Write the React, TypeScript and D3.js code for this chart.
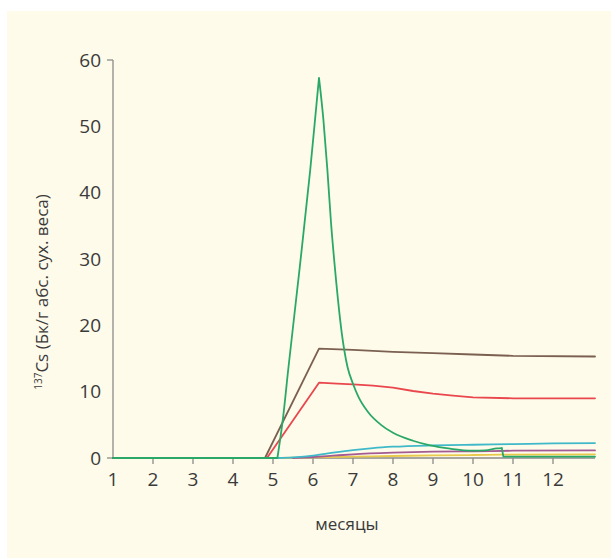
import React from "react";
import * as d3 from "d3";

// month ticks and y ticks
const monthTicks = [1, 2, 3, 4, 5, 6, 7, 8, 9, 10, 11, 12];
const valueTicks = [0, 10, 20, 30, 40, 50, 60];

// [month, Bq/g]
const brown = [[1, 0], [4.8, 0], [6.15, 16.5], [7, 16.3], [8, 16.0], [9, 15.8], [10, 15.6], [11, 15.4], [13.05, 15.3]];
const red = [[1, 0], [4.85, 0], [6.15, 11.35], [6.6, 11.2], [7, 11.1], [7.5, 10.9], [8, 10.6], [8.5, 10.1], [9, 9.7], [9.5, 9.4], [10, 9.15], [11, 9.0], [13.05, 9.0]];
// green is split at the peak and at the drop so the corners stay sharp
const greenFlat = [[1, 0], [5.11, 0]];
const greenRise = [[5.11, 0], [5.25, 6], [5.38, 13.3], [5.66, 28.3], [5.93, 43.4], [6.09, 53.5], [6.15, 57.3]];
const greenDecay = [[6.15, 57.3], [6.26, 51], [6.36, 43.4], [6.45, 35.5], [6.55, 28.5], [6.72, 18.8], [6.86, 13.8], [7.0, 11.2], [7.13, 9.3], [7.38, 6.9], [7.7, 5.0], [8.0, 3.8], [8.5, 2.6], [8.93, 1.9], [9.43, 1.4], [10, 1.1], [10.3, 1.15], [10.6, 1.45], [10.72, 1.5]];
const greenTail = [[10.72, 1.5], [10.76, 0.2], [13.05, 0.2]];
const cyan = [[5.1, 0], [5.5, 0.1], [6, 0.35], [6.5, 0.8], [7, 1.2], [7.5, 1.5], [8, 1.7], [9, 1.9], [10, 2.0], [11, 2.1], [12, 2.2], [13.05, 2.25]];
const purple = [[5.5, 0], [6, 0.15], [6.5, 0.35], [7, 0.55], [8, 0.8], [9, 0.95], [10, 1.0], [11, 1.1], [13.05, 1.15]];
const yellow = [[5.1, 0], [6, 0.1], [7, 0.2], [8, 0.3], [9, 0.4], [10, 0.45], [10.7, 0.5], [13.05, 0.55]];

const series = [
  { parts: [yellow], color: "#e9c94a", curve: d3.curveMonotoneX },
  { parts: [purple], color: "#a45a92", curve: d3.curveMonotoneX },
  { parts: [cyan], color: "#3fb9c9", curve: d3.curveMonotoneX },
  { parts: [red], color: "#e9474d", curve: d3.curveLinear },
  { parts: [brown], color: "#7b5f50", curve: d3.curveLinear },
  { parts: [greenFlat, greenRise, greenDecay], color: "#2aa868", curve: d3.curveMonotoneX },
  { parts: [greenTail], color: "#2aa868", curve: d3.curveLinear },
];

export default function App() {
  const width = 611;
  const height = 558;
  const x = d3.scaleLinear().domain([1, 13.05]).range([113, 595]);
  const y = d3.scaleLinear().domain([0, 60]).range([458, 60]);
  const font = "'Open Sans', 'Noto Sans', sans-serif";

  return (
    <svg width={width} height={height} style={{ position: "absolute", left: 0, top: 0 }}>
      <rect x={7} y={11} width={width - 7} height={height - 11} fill="#fefbea" />

      {/* y axis */}
      <line x1={x(1)} x2={x(1)} y1={y(60)} y2={y(0)} stroke="#8a8a88" strokeWidth={1.3} />
      <line x1={x(1) - 6} x2={x(1)} y1={y(60)} y2={y(60)} stroke="#8a8a88" strokeWidth={1.3} />
      <line x1={x(1) - 6} x2={x(1)} y1={y(0)} y2={y(0)} stroke="#8a8a88" strokeWidth={1.3} />
      {valueTicks.map((v) => (
        <text key={v} x={101} y={y(v)} dy="0.35em" textAnchor="end" fontFamily={font} fontSize={19} fill="#3a3a3a">
          {v}
        </text>
      ))}

      {/* x axis */}
      <line x1={x(1)} x2={x(13.05)} y1={y(0)} y2={y(0)} stroke="#8a8a88" strokeWidth={1.3} />
      {monthTicks.map((m) => (
        <g key={m}>
          {m > 1 && <line x1={x(m)} x2={x(m)} y1={y(0)} y2={y(0) + 6} stroke="#8a8a88" strokeWidth={1.3} />}
          <text x={x(m)} y={y(0) + 28} textAnchor="middle" fontFamily={font} fontSize={19} fill="#3a3a3a">
            {m}
          </text>
        </g>
      ))}

      {series.map((s, i) => {
        const line = d3.line<number[]>().x((d) => x(d[0])).y((d) => y(d[1])).curve(s.curve);
        const d = s.parts.map((p) => line(p) || "").join("");
        return <path key={i} d={d} fill="none" stroke={s.color} strokeWidth={1.8} strokeLinecap="round" strokeLinejoin="round" />;
      })}

      <text x={347} y={530} textAnchor="middle" fontFamily={font} fontSize={17} fill="#3a3a3a">
        месяцы
      </text>
      <text transform="translate(48,292) rotate(-90)" textAnchor="middle" fontFamily={font} fontSize={17} fill="#3a3a3a">
        <tspan fontSize={10} dy="-6">137</tspan>
        <tspan dy="6">Cs (Бк/г абс. сух. веса)</tspan>
      </text>
    </svg>
  );
}
